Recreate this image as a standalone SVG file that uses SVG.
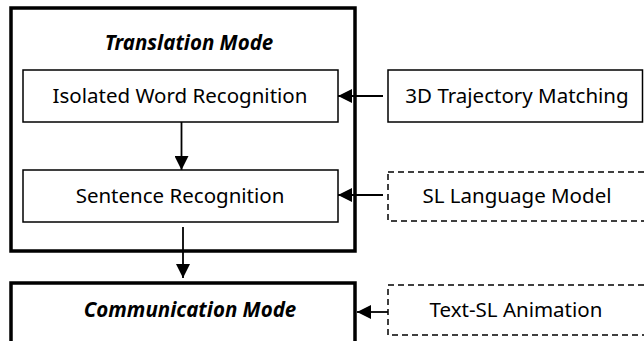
<svg xmlns="http://www.w3.org/2000/svg" width="644" height="341" viewBox="0 0 644 341">
<style>
text{font-family:"Noto Sans","Open Sans",sans-serif;font-size:20.5px;fill:#000;text-anchor:middle}
.bi{font-weight:bold;font-style:italic}
.thin{fill:#fff;stroke:#000;stroke-width:1.5}
.thick{fill:none;stroke:#000;stroke-width:3.5}
.dash{fill:#fff;stroke:#000;stroke-width:1.5;stroke-dasharray:6 4}
.conn{stroke:#000;stroke-width:1.8;fill:none}
</style>
<defs>
<marker id="a" viewBox="0 0 10 10" refX="10" refY="5" markerWidth="14" markerHeight="14" markerUnits="userSpaceOnUse" orient="auto">
<path d="M0,0 L10,5 L0,10 z" fill="#000"/>
</marker>
</defs>
<g id="translation-mode">
<rect class="thick" x="11" y="8" width="344" height="243"/>
<text class="bi" x="189" y="50">Translation Mode</text>
</g>
<g id="isolated-word">
<rect class="thin" x="23" y="70" width="315" height="52"/>
<text x="180" y="103">Isolated Word Recognition</text>
</g>
<g id="sentence">
<rect class="thin" x="23" y="170" width="315" height="52"/>
<text x="180" y="203">Sentence Recognition</text>
</g>
<g id="communication-mode">
<rect class="thick" x="11" y="283" width="344" height="62"/>
<text class="bi" x="190" y="317">Communication Mode</text>
</g>
<g id="trajectory">
<rect class="thin" x="388" y="70" width="254.5" height="52"/>
<text x="517" y="103">3D Trajectory Matching</text>
</g>
<g id="sl-language-model">
<rect class="dash" x="388" y="172" width="260" height="49"/>
<text x="517" y="203">SL Language Model</text>
</g>
<g id="text-sl-animation">
<rect class="dash" x="388" y="285" width="260" height="50"/>
<text x="516" y="317">Text-SL Animation</text>
</g>
<g id="connectors">
<line class="conn" x1="181.5" y1="122" x2="181.5" y2="170" marker-end="url(#a)"/>
<line class="conn" x1="183" y1="227" x2="183" y2="278" marker-end="url(#a)"/>
<line class="conn" x1="383" y1="96" x2="338" y2="96" marker-end="url(#a)"/>
<line class="conn" x1="383" y1="195" x2="338" y2="195" marker-end="url(#a)"/>
<line class="conn" x1="388" y1="312" x2="357" y2="312" marker-end="url(#a)"/>
</g>
</svg>
